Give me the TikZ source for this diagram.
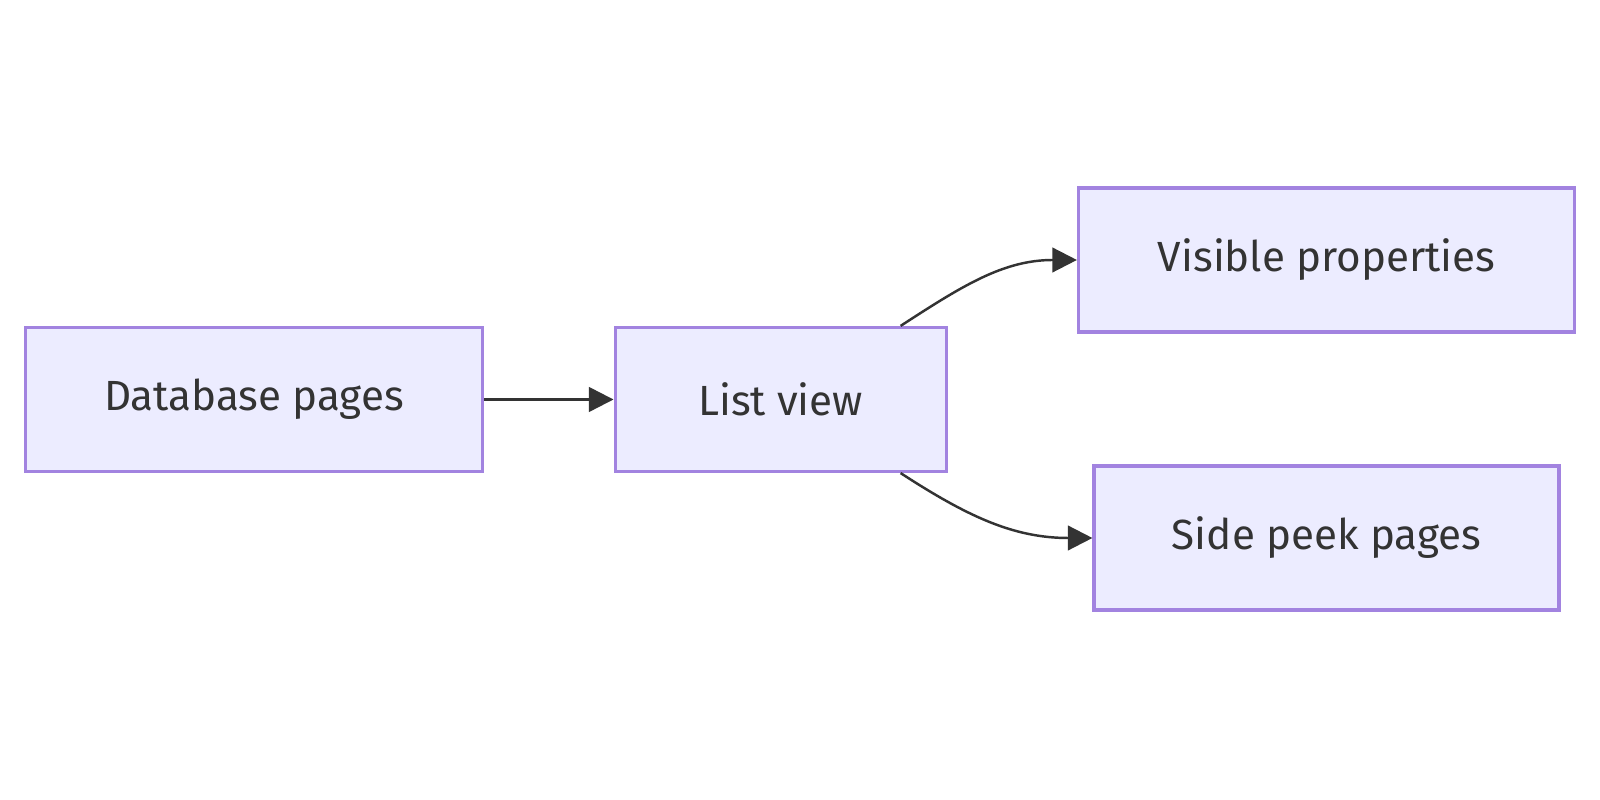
\documentclass[tikz,border=0pt]{standalone}
\usepackage{fontspec}
\setmainfont{Fira Sans}
\usetikzlibrary{positioning,arrows.meta,calc}
\definecolor{boxfill}{HTML}{ECECFF}
\definecolor{boxline}{HTML}{A283E0}
\definecolor{ink}{HTML}{333333}
\tikzset{
  pagebox/.style={draw=boxline,fill=boxfill,line width=0.9pt,minimum height=1.44cm,
    text=ink,font=\fontsize{12}{14}\selectfont,inner sep=0pt},
  flow/.style={draw=ink,line width=0.7pt,-{Triangle[length=7pt,width=7pt]}}
}
\begin{document}
\begin{tikzpicture}
\useasboundingbox (0,0) rectangle (16,8);
\fill[white] (0,0) rectangle (16,8);

\node[pagebox,minimum width=4.57cm] (db) at (2.54,4.005) {Database pages};
\node[pagebox,minimum width=3.31cm] (list) at (7.806,4.005) {List view};
\node[pagebox,minimum width=4.96cm] (vis) at (13.265,5.40) {Visible properties};
\node[pagebox,minimum width=4.65cm] (side) at (13.265,2.62) {Side peek pages};

\draw[flow] (db) -- (list);
\draw[flow] ([xshift=1.2cm]list.north) to[out=33,in=180] (vis.west);
\draw[flow] ([xshift=1.2cm]list.south) to[out=-33,in=180] (side.west);
\end{tikzpicture}
\end{document}
